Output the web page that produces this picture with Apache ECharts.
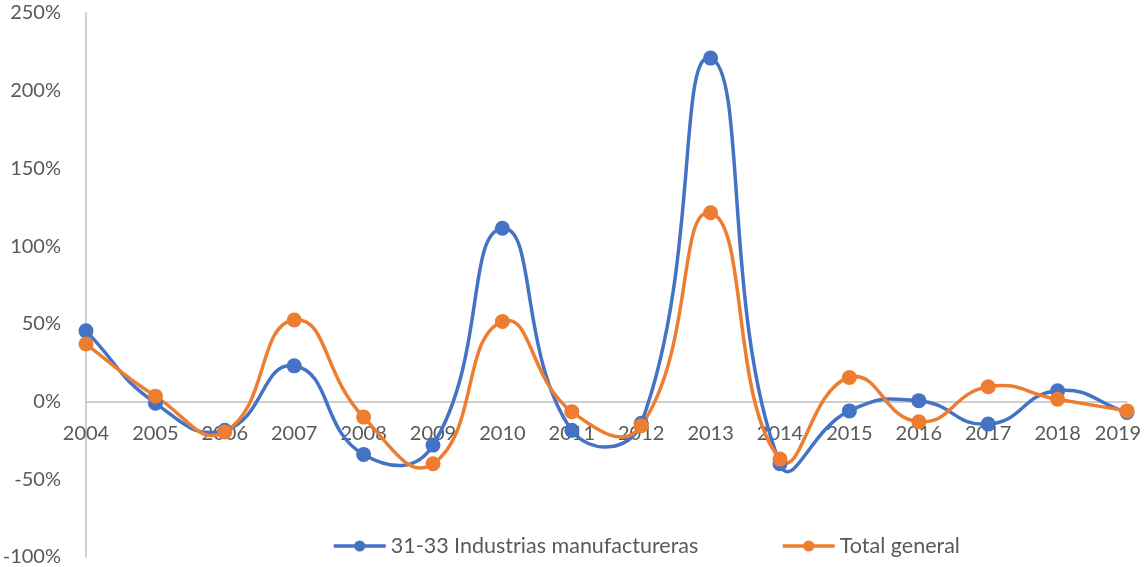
<!DOCTYPE html>
<html>
<head>
<meta charset="utf-8">
<script src="https://cdn.jsdelivr.net/npm/echarts@6/dist/echarts.min.js"></script>
<style>
  html, body { margin: 0; padding: 0; background: #fff; }
  #chart { width: 1146px; height: 567px; }
</style>
</head>
<body>
<div id="chart"></div>
<script>
// Years on the category axis
const years = ['2004','2005','2006','2007','2008','2009','2010','2011','2012','2013','2014','2015','2016','2017','2018','2019'];

// Year-over-year change, in percent
const manufacturas = [45.5, -1, -18.5, 23, -34, -28, 111.5, -18.5, -14, 221, -40, -6, 0.6, -14.5, 7, -7];
const totalGeneral = [37, 3.5, -19.5, 52.5, -10, -40, 51.5, -6.5, -15.5, 121.5, -37, 15.5, -13, 9.5, 1.5, -6];

// Y-axis range and step, in percent
const yMin = -100;
const yMax = 250;
const yStep = 50;

const seriesNames = ['31-33 Industrias manufactureras', 'Total general'];
const colors = ['#4472C4', '#ED7D31'];

const fontFamily = 'Lato, Open Sans, sans-serif';
const textColor = '#595959';
const axisColor = '#BFBFBF';
const lineWidth = 3.5;
const yearFontSize = 20;

const chartHeight = 567;
const gridTop = 13;
const gridBottom = 10;
// distance from the bottom of the plot to the 0% line, for the year labels
const zeroFromBottom = (0 - yMin) / (yMax - yMin) * (chartHeight - gridTop - gridBottom);

const chart = echarts.init(document.getElementById('chart'), null, { renderer: 'canvas' });

// Smoothed curve through the data points: each point gets two bezier
// control points along the neighbour-to-neighbour direction, scaled by
// the lengths of the adjacent segments.
function smoothCurve(values, color) {
  const tension = 0.5;
  return {
    type: 'custom',
    z: 2,
    silent: true,
    data: [[0, values[0]]],
    renderItem: function (params, api) {
      if (params.dataIndex !== 0) return;
      const pts = values.map(function (v, i) { return api.coord([i, v]); });
      const n = pts.length;
      const cpIn = [], cpOut = [];
      for (let i = 0; i < n; i++) {
        const cur = pts[i];
        const prev = pts[i - 1] || cur;
        const next = pts[i + 1] || cur;
        const vx = next[0] - prev[0], vy = next[1] - prev[1];
        const d0 = Math.hypot(cur[0] - prev[0], cur[1] - prev[1]);
        const d1 = Math.hypot(next[0] - cur[0], next[1] - cur[1]);
        const sum = d0 + d1 || 1;
        cpIn.push([cur[0] - vx * tension * d0 / sum, cur[1] - vy * tension * d0 / sum]);
        cpOut.push([cur[0] + vx * tension * d1 / sum, cur[1] + vy * tension * d1 / sum]);
      }
      const children = [];
      for (let i = 0; i < n - 1; i++) {
        children.push({
          type: 'bezierCurve',
          shape: {
            x1: pts[i][0], y1: pts[i][1],
            cpx1: cpOut[i][0], cpy1: cpOut[i][1],
            cpx2: cpIn[i + 1][0], cpy2: cpIn[i + 1][1],
            x2: pts[i + 1][0], y2: pts[i + 1][1]
          },
          style: { stroke: color, lineWidth: lineWidth, fill: null, lineCap: 'round', lineJoin: 'round' }
        });
      }
      return { type: 'group', children: children };
    },
    animation: false
  };
}

// Markers for each year (the connecting line is the smoothed curve above)
function markers(name, data, color) {
  return {
    name: name,
    type: 'line',
    z: 3,
    data: data,
    symbol: 'circle',
    symbolSize: 15,
    showSymbol: true,
    itemStyle: { color: color },
    lineStyle: { color: color, width: lineWidth, opacity: 0 },
    emphasis: { disabled: true },
    animation: false
  };
}

function legendAt(left, name, color) {
  return {
    left: left,
    top: 535,
    itemWidth: 52,
    itemHeight: 14,
    padding: 0,
    selectedMode: false,
    textStyle: { color: textColor, fontSize: 21.5, fontFamily: fontFamily },
    data: [{
      name: name,
      lineStyle: { color: color, width: lineWidth, opacity: 1 },
      itemStyle: { color: color }
    }]
  };
}

chart.setOption({
  animation: false,
  color: colors,
  grid: { left: 86, right: 19, top: gridTop, bottom: gridBottom, containLabel: false, outerBoundsMode: 'none' },
  legend: [
    legendAt(332, seriesNames[0], colors[0]),
    legendAt(781, seriesNames[1], colors[1])
  ],
  xAxis: [
    {
      // 0% baseline
      type: 'category',
      data: years,
      boundaryGap: false,
      axisLine: { onZero: true, lineStyle: { color: axisColor, width: 1.5 } },
      axisTick: { show: false },
      axisLabel: { show: false },
      splitLine: { show: false }
    },
    {
      // year labels sitting just under the 0% baseline
      type: 'category',
      data: years,
      position: 'bottom',
      offset: -zeroFromBottom,
      boundaryGap: false,
      axisLine: { show: false, onZero: false },
      axisTick: { show: false },
      axisLabel: {
        color: textColor,
        fontSize: yearFontSize,
        fontFamily: fontFamily,
        margin: 22,
        interval: 0,
        // the last year is nudged left so it stays inside the chart
        formatter: function (v, i) {
          return i === years.length - 1 ? '{edge|' + v + '}' : v;
        },
        rich: {
          edge: {
            color: textColor,
            fontSize: yearFontSize,
            fontFamily: fontFamily,
            padding: [0, 18, 0, 0]
          }
        }
      },
      splitLine: { show: false }
    }
  ],
  yAxis: {
    type: 'value',
    min: yMin,
    max: yMax,
    interval: yStep,
    axisLine: { show: true, lineStyle: { color: axisColor, width: 1.5 } },
    axisTick: { show: false },
    axisLabel: {
      color: textColor,
      fontSize: 20,
      fontFamily: fontFamily,
      margin: 25,
      formatter: function (v) { return v + '%'; }
    },
    splitLine: { show: false }
  },
  series: [
    smoothCurve(manufacturas, colors[0]),
    smoothCurve(totalGeneral, colors[1]),
    markers(seriesNames[0], manufacturas, colors[0]),
    markers(seriesNames[1], totalGeneral, colors[1])
  ]
});
</script>
</body>
</html>
